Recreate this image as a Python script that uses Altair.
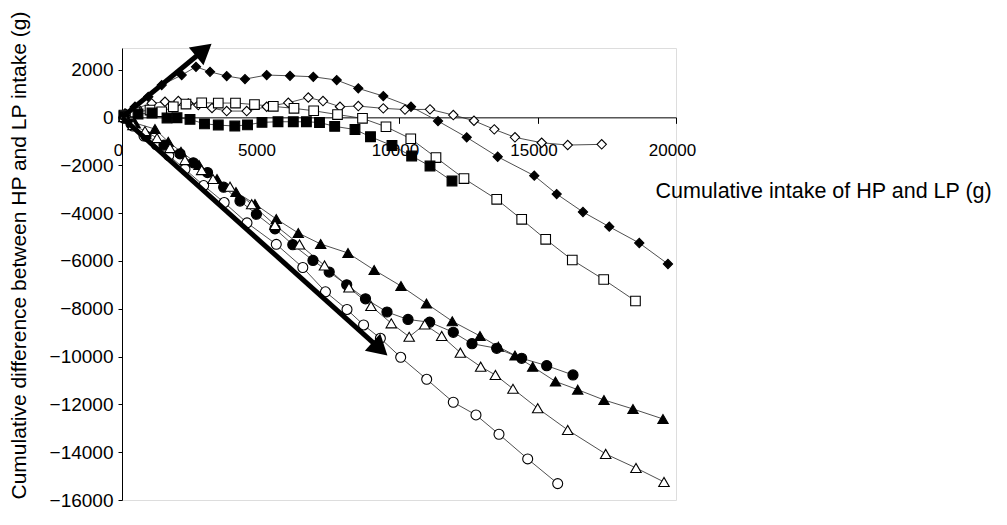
import math
import altair as alt
import pandas as pd

# ---------------- data ----------------
fd_x = [108, 469, 949, 1433, 2155, 2671, 3177, 3780, 4440, 5224, 6065, 6906, 7751, 8530, 9433, 10433, 11408, 12444, 13563, 14884, 15692, 16642, 17591, 18674, 19710]
fd_y = [167, 443, 861, 1350, 1768, 2115, 1906, 1726, 1601, 1768, 1739, 1697, 1559, 1212, 890, 443, -155, -836, -1647, -2441, -3206, -3958, -4573, -5254, -6132]

od_x = [144, 542, 1072, 1552, 2032, 2393, 2754, 3249, 3780, 4502, 5224, 6003, 6725, 7256, 7870, 8530, 9433, 10216, 11119, 11960, 12707, 13440, 14187, 15151, 16090, 17317]
od_y = [138, 389, 585, 652, 681, 585, 514, 389, 263, 263, 443, 610, 828, 681, 443, 472, 376, 326, 334, 96, -142, -502, -836, -1062, -1158, -1129]

os_x = [72, 469, 1011, 1433, 1852, 2310, 2877, 3476, 4097, 4783, 5462, 6209, 6920, 7780, 8682, 9530, 10425, 11335, 12346, 13527, 14429, 15296, 16256, 17390, 18537]
os_y = [96, 222, 305, 234, 443, 556, 610, 598, 598, 535, 460, 376, 276, 117, -42, -393, -895, -1680, -2558, -3428, -4264, -5100, -5965, -6780, -7679]

fs_x = [72, 578, 1083, 1625, 1986, 2455, 2978, 3476, 4072, 4531, 5054, 5632, 6184, 6657, 7130, 7678, 8411, 8971, 9747, 10458, 11119, 11913]
fs_y = [54, 138, 180, -29, -17, -84, -272, -322, -364, -314, -209, -184, -184, -184, -217, -376, -510, -811, -1179, -1618, -2036, -2663]

oc_x = [72, 397, 794, 1238, 1689, 2274, 2949, 3689, 4513, 5570, 6527, 7346, 8123, 8722, 9328, 10061, 11000, 11960, 12779, 13610, 14646, 15729]
oc_y = [-29, -364, -782, -1145, -1597, -2169, -2851, -3561, -4410, -5309, -6278, -7294, -8034, -8682, -9238, -10032, -10952, -11913, -12444, -13251, -14283, -15315]

fc_x = [72, 325, 866, 1516, 2094, 2574, 3087, 3671, 4260, 4852, 5523, 6166, 6895, 7480, 8112, 8790, 9567, 10325, 11108, 11960, 12635, 13527, 14429, 15332, 16281]
fc_y = [-29, -280, -782, -1158, -1526, -1902, -2307, -2921, -3499, -4051, -4661, -5325, -5982, -6467, -7002, -7587, -8139, -8452, -8565, -8987, -9464, -9656, -10074, -10383, -10772]

ft_x = [72, 469, 1191, 1671, 2130, 2780, 3430, 4115, 4801, 5570, 6364, 7173, 8159, 9104, 10072, 10992, 11924, 12924, 13584, 14187, 14826, 15649, 16451, 17400, 18447, 19530]
ft_y = [13, -238, -489, -1020, -1438, -1994, -2579, -3123, -3624, -4251, -4837, -5296, -5672, -6383, -7052, -7784, -8527, -9142, -9589, -9957, -10425, -11044, -11386, -11817, -12193, -12611]

ot_x = [72, 397, 830, 1264, 1733, 2274, 2877, 3285, 3899, 4682, 5523, 6408, 7310, 8195, 8989, 9722, 10368, 10927, 11541, 12216, 12949, 13480, 14115, 15007, 16090, 17462, 18555, 19566]
ot_y = [13, -322, -573, -865, -1283, -1785, -2203, -2579, -2901, -3632, -4502, -5317, -6195, -7114, -7888, -8611, -9175, -8661, -9142, -9840, -10425, -10772, -11349, -12164, -13071, -14074, -14660, -15245]

arrow_tip_x = [3393, 9736]
arrow_tip_y = [3231, -10116]

x_ticks = [0, 5000, 10000, 15000, 20000]
y_ticks = [-16000, -14000, -12000, -10000, -8000, -6000, -4000, -2000, 0, 2000]

series = [
    ("fd", fd_x, fd_y, "diamond", "black", 85),
    ("od", od_x, od_y, "diamond", "white", 110),
    ("os", os_x, os_y, "square", "white", 115),
    ("fs", fs_x, fs_y, "square", "black", 115),
    ("oc", oc_x, oc_y, "circle", "white", 105),
    ("fc", fc_x, fc_y, "circle", "black", 120),
    ("ft", ft_x, ft_y, "triangle-up", "black", 130),
    ("ot", ot_x, ot_y, "triangle-up", "white", 140),
]

rows = []
for name, xs_, ys_, _, _, _ in series:
    for i, (a, b) in enumerate(zip(xs_, ys_)):
        rows.append({"series": name, "x": a, "y": b, "i": i})
df = pd.DataFrame(rows)

names = [s[0] for s in series]
shapes = [s[3] for s in series]
fills = [s[4] for s in series]
sizes = [s[5] for s in series]

# ---------------- layout ----------------
X_MIN, X_MAX = 0, 20000
Y_MIN, Y_MAX = -16000, 2900
W, H = 554, 452
PADL, PADT, PADR, PADB = 114, 40, 323, 12
FONT = "Liberation Sans"

px_x = W / (X_MAX - X_MIN)
px_y = H / (Y_MAX - Y_MIN)
y0_px = (Y_MAX - 0) * px_y  # pixel of y=0 within plot

# arrows: shaft from origin to head centre, head rotated along the shaft
head_back = 15.7
arows = []
for k, (tx, ty) in enumerate(zip(arrow_tip_x, arrow_tip_y)):
    dxp = tx * px_x
    dyp = -ty * px_y
    L = math.hypot(dxp, dyp)
    ux, uy = dxp / L, dyp / L
    cx = tx - ux * head_back / px_x
    cy = ty + uy * head_back / px_y
    ang = math.degrees(math.atan2(dxp, -dyp)) % 360
    arows.append({"a": k, "x": 0, "y": 0, "hx": cx, "hy": cy, "ang": ang})
adf = pd.DataFrame(arows)

xs = alt.Scale(domain=[X_MIN, X_MAX], nice=False, zero=False)
ys = alt.Scale(domain=[Y_MIN, Y_MAX], nice=False, zero=False)

x_axis = alt.Axis(
    values=x_ticks, format="d", grid=False, orient="bottom",
    offset=-(H - y0_px), tickSize=6, labelPadding=19, labelOffset=-4,
    labelFlush=False, labelFontSize=17, labelFont=FONT, labelColor="black",
    domainColor="black", tickColor="black",
    title="Cumulative intake of HP and LP (g)", titleFont=FONT,
    titleFontSize=21.5, titleFontWeight="normal", titleColor="black",
    titleAlign="left", titleBaseline="alphabetic", titleX=533, titleY=80,
    titleAnchor="start",
)
y_axis = alt.Axis(
    values=y_ticks, format="d", grid=False, tickSize=4, labelPadding=5,
    labelFontSize=19, labelFont=FONT, labelColor="black",
    domainColor="black", tickColor="black",
    title="Cumulative difference between HP and LP intake (g)", titleFont=FONT,
    titleFontSize=21, titleFontWeight="normal", titleColor="black",
    titleAngle=270, titleAlign="center", titleBaseline="middle",
    titleX=19.5 - (8 + PADL), titleY=207,
)

lines = alt.Chart(df).mark_line(color="#222", strokeWidth=0.8).encode(
    x=alt.X("x:Q", scale=xs, axis=x_axis),
    y=alt.Y("y:Q", scale=ys, axis=y_axis),
    detail="series:N",
    order="i:Q",
)

pts = alt.Chart(df).mark_point(filled=True, stroke="black", strokeWidth=1.1, opacity=1).encode(
    x=alt.X("x:Q", scale=xs),
    y=alt.Y("y:Q", scale=ys),
    shape=alt.Shape("series:N", scale=alt.Scale(domain=names, range=shapes), legend=None),
    fill=alt.Fill("series:N", scale=alt.Scale(domain=names, range=fills), legend=None),
    size=alt.Size("series:N", scale=alt.Scale(domain=names, range=sizes), legend=None),
)

shaft = alt.Chart(adf).mark_rule(color="black", strokeWidth=5).encode(
    x=alt.X("x:Q", scale=xs), y=alt.Y("y:Q", scale=ys),
    x2="hx:Q", y2="hy:Q",
)
head = alt.Chart(adf).mark_point(shape="triangle-up", filled=True, color="black", opacity=1, size=530).encode(
    x=alt.X("hx:Q", scale=xs), y=alt.Y("hy:Q", scale=ys),
    angle=alt.Angle("ang:Q", scale=None),
)

chart = alt.layer(lines, pts, shaft, head).properties(
    width=W, height=H,
    autosize=alt.AutoSizeParams(type="none"),
    padding={"left": PADL, "top": PADT, "right": PADR, "bottom": PADB},
).configure_view(stroke=None).configure(background="white")

chart.save("out.html", embed_options={"renderer": "svg", "actions": False})
